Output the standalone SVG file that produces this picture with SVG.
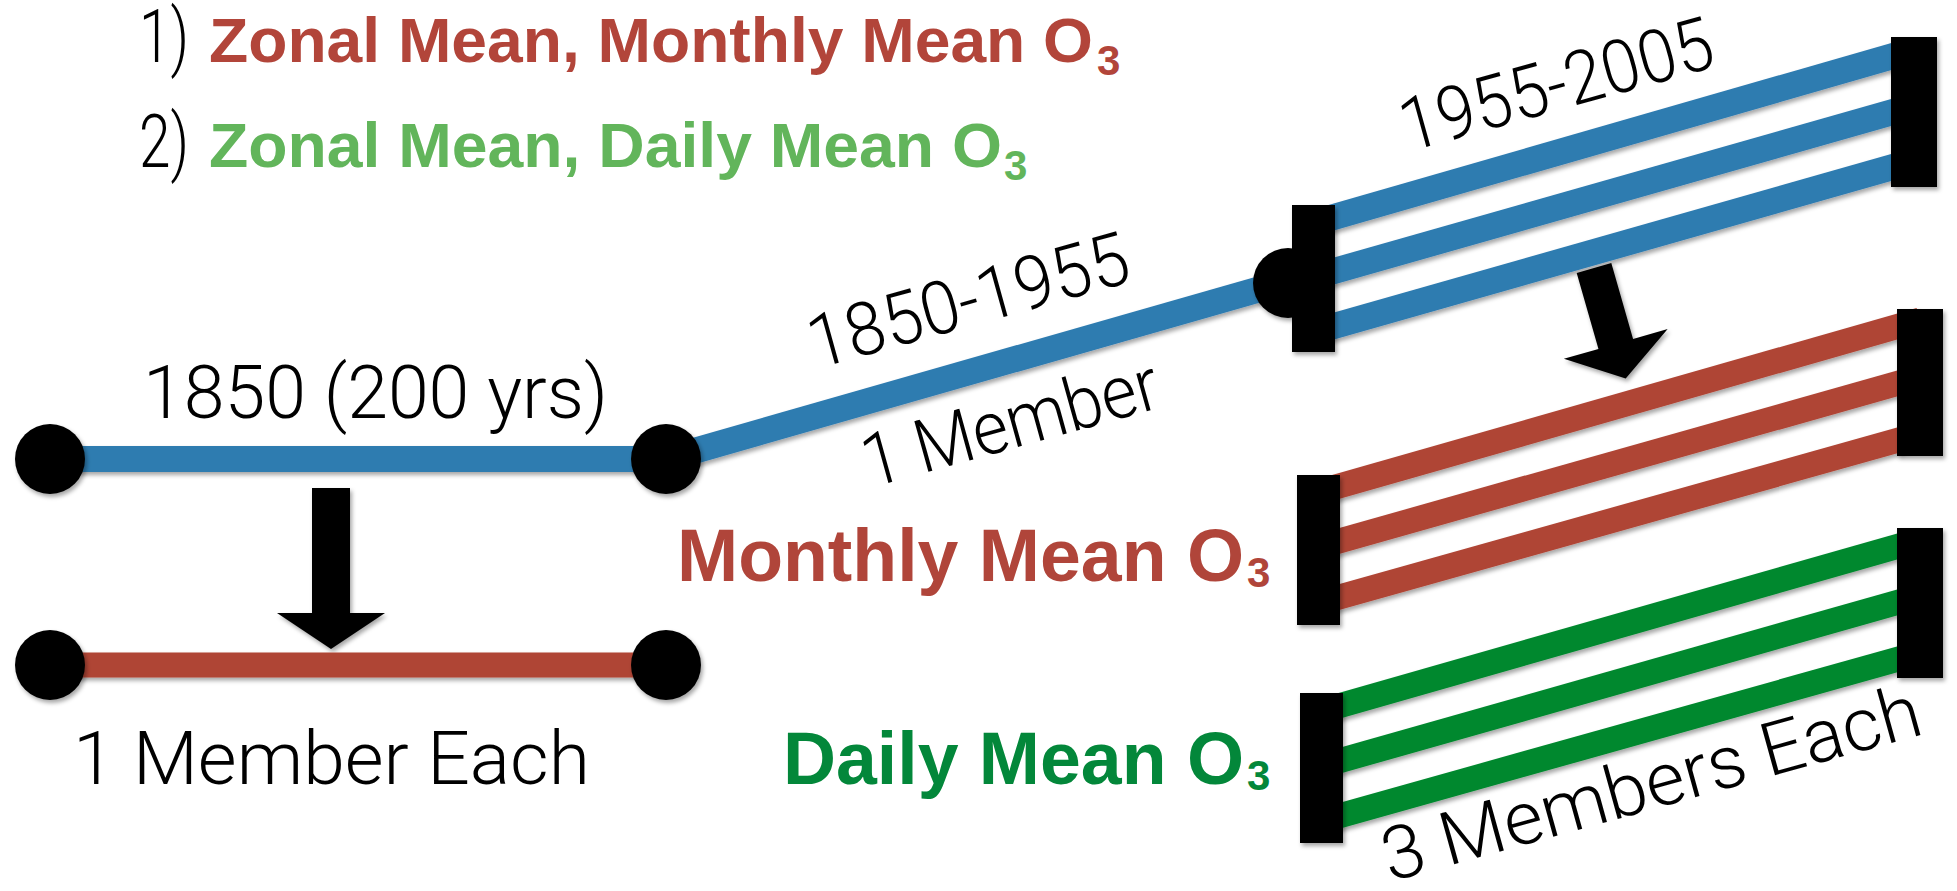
<svg xmlns="http://www.w3.org/2000/svg" width="1957" height="891" viewBox="0 0 1957 891">
<style>
.lt{font-family:Roboto,"Liberation Sans",sans-serif;font-weight:300;font-size:74px;fill:#000}
.bd{font-family:"Liberation Sans",Arial,sans-serif;font-weight:bold}
.blue{stroke:#2E7BB0;stroke-width:26;fill:none}
.red{stroke:#AF4535;stroke-width:25;fill:none}
.grn{stroke:#05882F;stroke-width:25;fill:none}
.blk{fill:#000}
</style>
<defs>
<filter id="sh" x="-20%" y="-20%" width="140%" height="140%">
<feDropShadow dx="2" dy="3" stdDeviation="2" flood-color="#000" flood-opacity="0.35"/>
</filter>
<path id="arrowA" d="M-19,0 H19 V125 H54 L0,161 L-54,125 H-19 Z"/>
<path id="arrowB" d="M-18,0 H18 V79 H54 L0,115 L-54,79 H-18 Z"/>
</defs>
<rect width="1957" height="891" fill="#fff"/>

<g id="legend">
<text class="lt" x="139" y="62" font-size="63" textLength="50" lengthAdjust="spacingAndGlyphs">1)</text>
<text class="bd" x="209" y="62" font-size="63" fill="#B2453A" textLength="884" lengthAdjust="spacingAndGlyphs">Zonal Mean, Monthly Mean O</text>
<text class="bd" x="1097" y="75" font-size="42" fill="#B2453A">3</text>
<text class="lt" x="139" y="167" font-size="63" textLength="50" lengthAdjust="spacingAndGlyphs">2)</text>
<text class="bd" x="209" y="167" font-size="63" fill="#62B55B" textLength="793" lengthAdjust="spacingAndGlyphs">Zonal Mean, Daily Mean O</text>
<text class="bd" x="1004" y="180" font-size="42" fill="#62B55B">3</text>
</g>

<g id="connectors" filter="url(#sh)">
<line class="blue" x1="50" y1="459" x2="666" y2="459" stroke-width="28"/>
<line class="red" x1="50" y1="665" x2="666" y2="665"/>
<line class="blue" x1="666" y1="459" x2="1288" y2="281"/>
<line class="blue" x1="1313" y1="223" x2="1914" y2="50"/>
<line class="blue" x1="1313" y1="277" x2="1914" y2="106"/>
<line class="blue" x1="1313" y1="332" x2="1914" y2="161"/>
<line class="red" x1="1318" y1="492" x2="1920" y2="320"/>
<line class="red" x1="1318" y1="547" x2="1920" y2="377"/>
<line class="red" x1="1318" y1="603" x2="1920" y2="434"/>
<line class="grn" x1="1321" y1="711" x2="1920" y2="540"/>
<line class="grn" x1="1321" y1="766" x2="1920" y2="596"/>
<line class="grn" x1="1321" y1="821" x2="1920" y2="653"/>
<use href="#arrowA" class="blk" transform="translate(331,488)"/>
<use href="#arrowB" class="blk" transform="translate(1594,268) rotate(-16)"/>
</g>

<g id="node-start-1850" filter="url(#sh)">
<circle class="blk" cx="50" cy="459" r="35"/>
</g>
<g id="node-end-1850" filter="url(#sh)">
<circle class="blk" cx="666" cy="459" r="35"/>
</g>
<g id="node-mon-start" filter="url(#sh)">
<circle class="blk" cx="50" cy="665" r="35"/>
</g>
<g id="node-mon-end" filter="url(#sh)">
<circle class="blk" cx="666" cy="665" r="35"/>
</g>
<g id="node-1955" filter="url(#sh)">
<circle class="blk" cx="1288" cy="283" r="35"/>
<rect class="blk" x="1292" y="205" width="43" height="147"/>
</g>
<g id="node-2005" filter="url(#sh)">
<rect class="blk" x="1891" y="37" width="46" height="150"/>
</g>
<g id="node-monthly-start" filter="url(#sh)">
<rect class="blk" x="1297" y="475" width="43" height="150"/>
</g>
<g id="node-monthly-end" filter="url(#sh)">
<rect class="blk" x="1897" y="309" width="46" height="147"/>
</g>
<g id="node-daily-start" filter="url(#sh)">
<rect class="blk" x="1300" y="693" width="43" height="150"/>
</g>
<g id="node-daily-end" filter="url(#sh)">
<rect class="blk" x="1897" y="528" width="46" height="150"/>
</g>

<g id="labels">
<text class="lt" x="143" y="418" textLength="465" lengthAdjust="spacingAndGlyphs">1850 (200 yrs)</text>
<text class="lt" x="73" y="784" textLength="517" lengthAdjust="spacingAndGlyphs">1 Member Each</text>
<text class="lt" transform="translate(816,369) rotate(-15.5)" textLength="330" lengthAdjust="spacingAndGlyphs">1850-1955</text>
<text class="lt" transform="translate(870,488) rotate(-15.5)" textLength="305" lengthAdjust="spacingAndGlyphs">1 Member</text>
<text class="lt" transform="translate(1408,152) rotate(-15.5)" textLength="322" lengthAdjust="spacingAndGlyphs">1955-2005</text>
<text class="lt" transform="translate(1390,882) rotate(-15.5)" textLength="556" lengthAdjust="spacingAndGlyphs">3 Members Each</text>
<text class="bd" x="677" y="581" font-size="74" fill="#B0453A" textLength="567" lengthAdjust="spacingAndGlyphs">Monthly Mean O</text>
<text class="bd" x="1247" y="587" font-size="42" fill="#B0453A">3</text>
<text class="bd" x="783" y="784" font-size="74" fill="#03873A" textLength="461" lengthAdjust="spacingAndGlyphs">Daily Mean O</text>
<text class="bd" x="1247" y="790" font-size="42" fill="#03873A">3</text>
</g>
</svg>
